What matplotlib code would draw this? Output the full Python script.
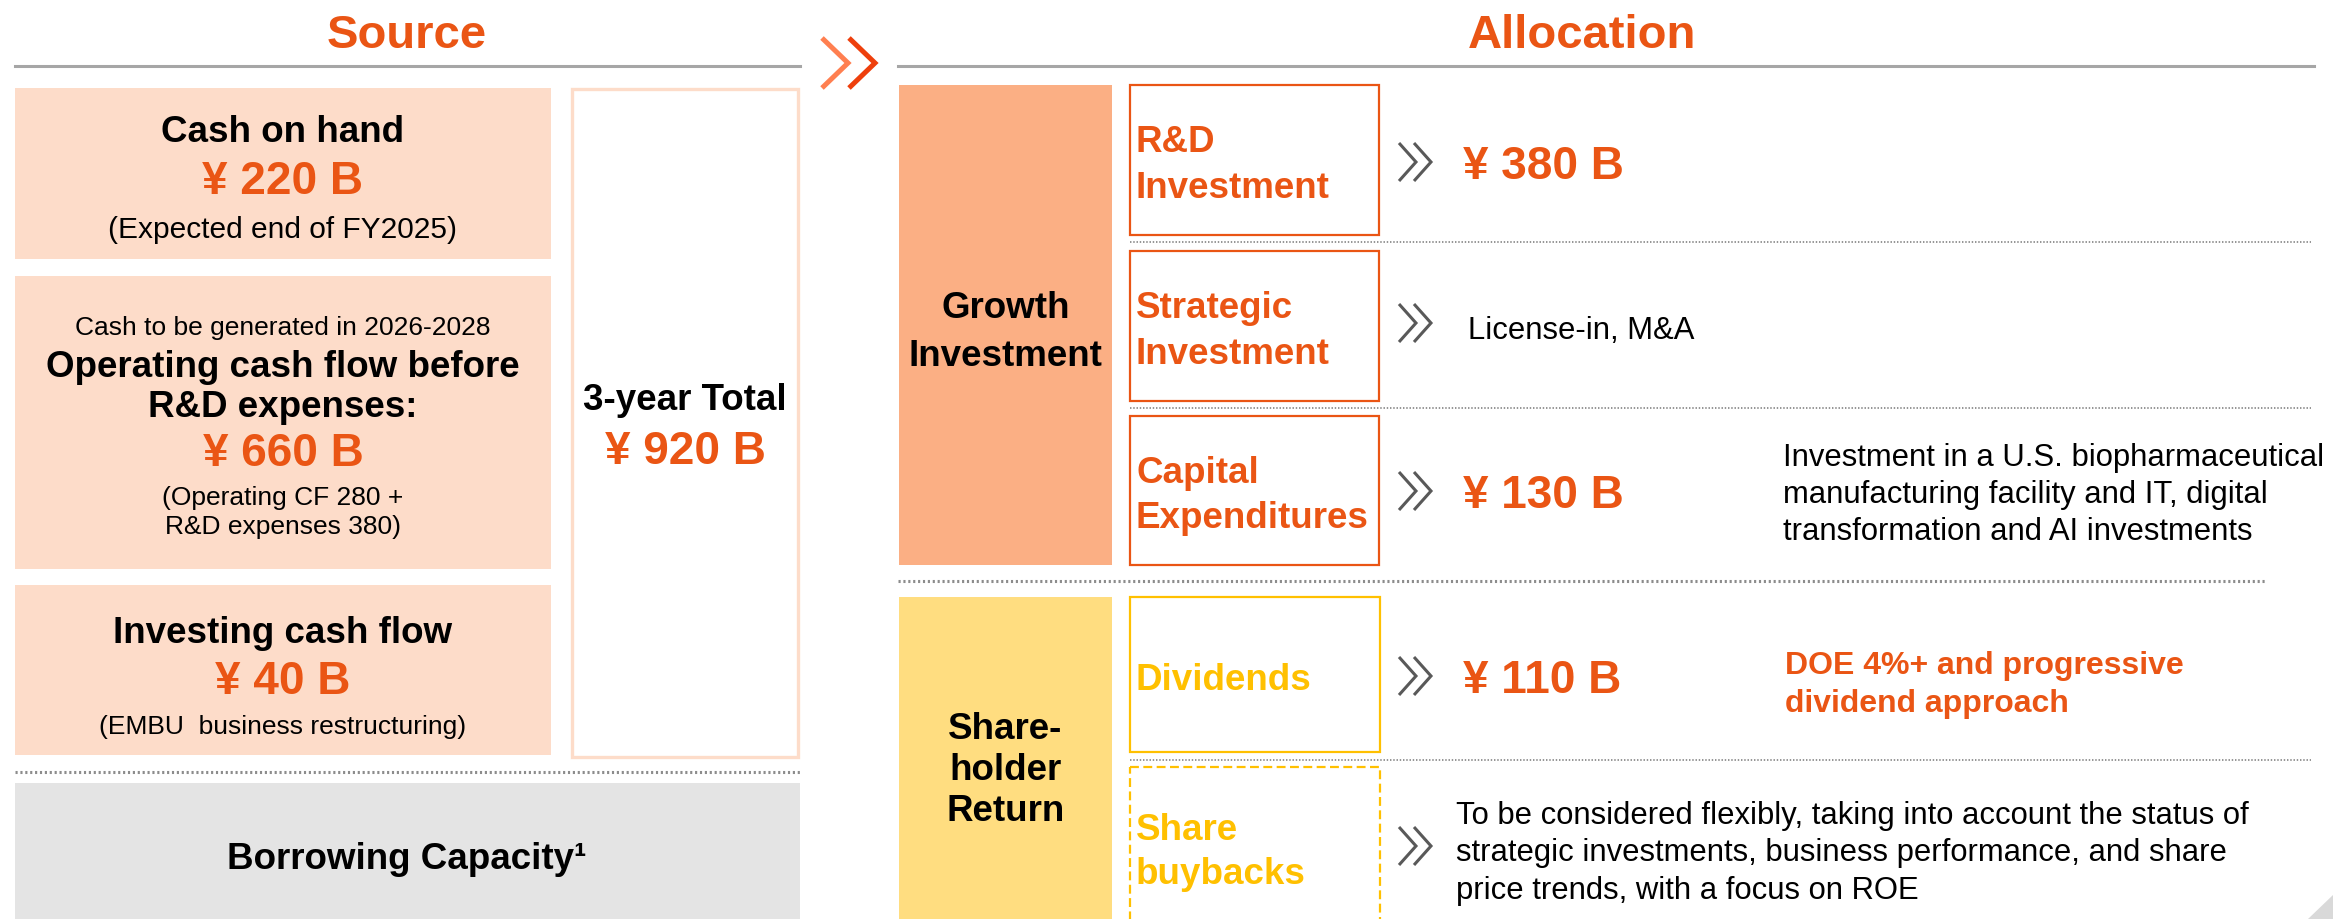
import matplotlib
matplotlib.use("Agg")
import matplotlib.pyplot as plt
from matplotlib.patches import Rectangle, Polygon

plt.rcParams['font.family'] = ['Liberation Sans', 'DejaVu Sans']

# colours
ORANGE = '#EA5514'
PEACH = '#FDDCC9'
SALMON = '#FBAF84'
YELLOW_FILL = '#FFDD80'
YELLOW = '#FFC000'
GREY_BOX = '#E4E4E4'
GREY_LINE = '#A6A6A6'
DOT = '#8C8C8C'
CHEV = '#595959'

# ---- data ----
titles = ["Source", "Allocation"]

source_pre = ["", "Cash to be generated in 2026-2028", ""]
source_heads = [["Cash on hand"],
                ["Operating cash flow before", "R&D expenses:"],
                ["Investing cash flow"]]
source_values = [220, 660, 40]
source_notes = [["(Expected end of FY2025)"],
                ["(Operating CF 280 +", "R&D expenses 380)"],
                ["(EMBU  business restructuring)"]]
total_label = "3-year Total"
total_value = 920
borrow_label = "Borrowing Capacity\u00b9"

groups = [["Growth", "Investment"], ["Share-", "holder", "Return"]]
alloc_items = [["R&D", "Investment"], ["Strategic", "Investment"],
               ["Capital", "Expenditures"], ["Dividends"], ["Share", "buybacks"]]
alloc_values = [380, None, 130, 110, None]
alloc_notes = [[],
               ["License-in, M&A"],
               ["Investment in a U.S. biopharmaceutical",
                "manufacturing facility and IT, digital",
                "transformation and AI investments"],
               ["DOE 4%+ and progressive", "dividend approach"],
               ["To be considered flexibly, taking into account the status of",
                "strategic investments, business performance, and share",
                "price trends, with a focus on ROE"]]

# ---- layout (pixels) ----
W, H = 2333, 920
src_boxes = [(15, 89, 536, 171), (15, 277, 536, 293), (15, 586, 536, 170)]
src_pre_y = [None, 324, None]
src_head_y = [[129], [364, 404], [630]]
src_val_y = [178, 450, 678]
src_note_y = [[226], [494, 523], [723]]

group_boxes = [(899, 86, 213, 480), (899, 598, 213, 330)]
group_text_y = [[305, 353], [726, 767, 808]]
item_boxes = [(1130, 86, 249, 150), (1130, 252, 249, 150), (1130, 417, 249, 149),
              (1130, 598, 250, 155), (1130, 768, 250, 160)]
item_text_y = [[138, 185], [305, 351], [470, 515], [677], [827, 871]]
row_y = [163, 324, 492, 677, 847]
note_x = [None, 1468, 1783, 1785, 1456]
note_y = [[], [327], [454, 491, 528], [662, 700], [812, 849, 887]]

fig = plt.figure(figsize=(W / 100, H / 100), dpi=100)
ax = fig.add_axes([0, 0, 1, 1])
ax.set_xlim(0, W)
ax.set_ylim(H, 0)
ax.axis('off')


def txt(x, y, s, size, color='black', bold=False, ha='center'):
    # va='center' sits a little high, nudge down
    ax.text(x, y + 4, s, fontsize=size, color=color, ha=ha, va='center',
            fontweight='bold' if bold else 'normal')


def chevrons(x, y, w, h, gap, colors, lw):
    for i, c in enumerate(colors):
        x0 = x + i * gap
        ax.plot([x0, x0 + w, x0], [y - h / 2, y, y + h / 2], color=c, lw=lw,
                solid_joinstyle='miter', solid_capstyle='butt')


# titles and rules
txt(407, 32, titles[0], 34, ORANGE, True)
txt(1582, 32, titles[1], 34, ORANGE, True)
ax.plot([15, 800], [67, 67], color=GREY_LINE, lw=2.2)
ax.plot([898, 2314], [67, 67], color=GREY_LINE, lw=2.2)
chevrons(822, 64, 26, 50, 27, ['#FF7F50', '#EE3F0C'], 3.6)

# source side
for i, (x, y, w, h) in enumerate(src_boxes):
    ax.add_patch(Rectangle((x, y), w, h, facecolor=PEACH, edgecolor='none'))
    cx = x + w / 2
    if source_pre[i]:
        txt(cx, src_pre_y[i], source_pre[i], 19)
    for s, yy in zip(source_heads[i], src_head_y[i]):
        txt(cx, yy, s, 26.5, bold=True)
    txt(cx, src_val_y[i], f"\u00a5 {source_values[i]} B", 33, ORANGE, True)
    note_size = 21.5 if i == 0 else 19
    for s, yy in zip(source_notes[i], src_note_y[i]):
        txt(cx, yy, s, note_size)

ax.add_patch(Rectangle((572, 90), 226, 668, facecolor='white', edgecolor=PEACH, lw=2.4))
txt(685, 397, total_label, 26.5, bold=True)
txt(685, 448, f"\u00a5 {total_value} B", 33, ORANGE, True)

ax.plot([15, 800], [773, 773], color=DOT, lw=2.2, ls=(0, (0.7, 0.9)))
ax.add_patch(Rectangle((15, 784), 785, 150, facecolor=GREY_BOX, edgecolor='none'))
txt(407, 856, borrow_label, 26.5, bold=True)

# allocation side
for (x, y, w, h), fc, lines, ys in zip(group_boxes, [SALMON, YELLOW_FILL], groups, group_text_y):
    ax.add_patch(Rectangle((x, y), w, h, facecolor=fc, edgecolor='none'))
    for s, yy in zip(lines, ys):
        txt(x + w / 2, yy, s, 26.5, bold=True)

for i, (x, y, w, h) in enumerate(item_boxes):
    col = ORANGE if i < 3 else YELLOW
    ls = (0, (4, 2)) if i == 4 else '-'
    ax.add_patch(Rectangle((x, y), w, h, facecolor='white', edgecolor=col,
                           lw=1.6, ls=ls))
    for s, yy in zip(alloc_items[i], item_text_y[i]):
        txt(1136, yy, s, 26.5, col, True, ha='left')
    chevrons(1399, row_y[i], 17, 38, 15, [CHEV, CHEV], 2.2)
    if alloc_values[i] is not None:
        txt(1463, row_y[i], f"\u00a5 {alloc_values[i]} B", 33, ORANGE, True, ha='left')
    for s, yy in zip(alloc_notes[i], note_y[i]):
        if i == 3:
            txt(note_x[i], yy, s, 23, ORANGE, True, ha='left')
        else:
            txt(note_x[i], yy, s, 22.3, ha='left')

# dotted separators
ax.plot([1130, 2311], [243, 243], color=DOT, lw=1.3, ls=(0, (0.8, 1.0)))
ax.plot([1130, 2311], [409, 409], color=DOT, lw=1.3, ls=(0, (0.8, 1.0)))
ax.plot([898, 2265], [582, 582], color=DOT, lw=2.2, ls=(0, (0.7, 0.9)))
ax.plot([1130, 2311], [761, 761], color=DOT, lw=1.3, ls=(0, (0.8, 1.0)))

# page corner
ax.add_patch(Polygon([(2308, 920), (2333, 896), (2333, 920)], facecolor='#D9D9D9',
                     edgecolor='none'))

fig.savefig('out.png', dpi=100)
